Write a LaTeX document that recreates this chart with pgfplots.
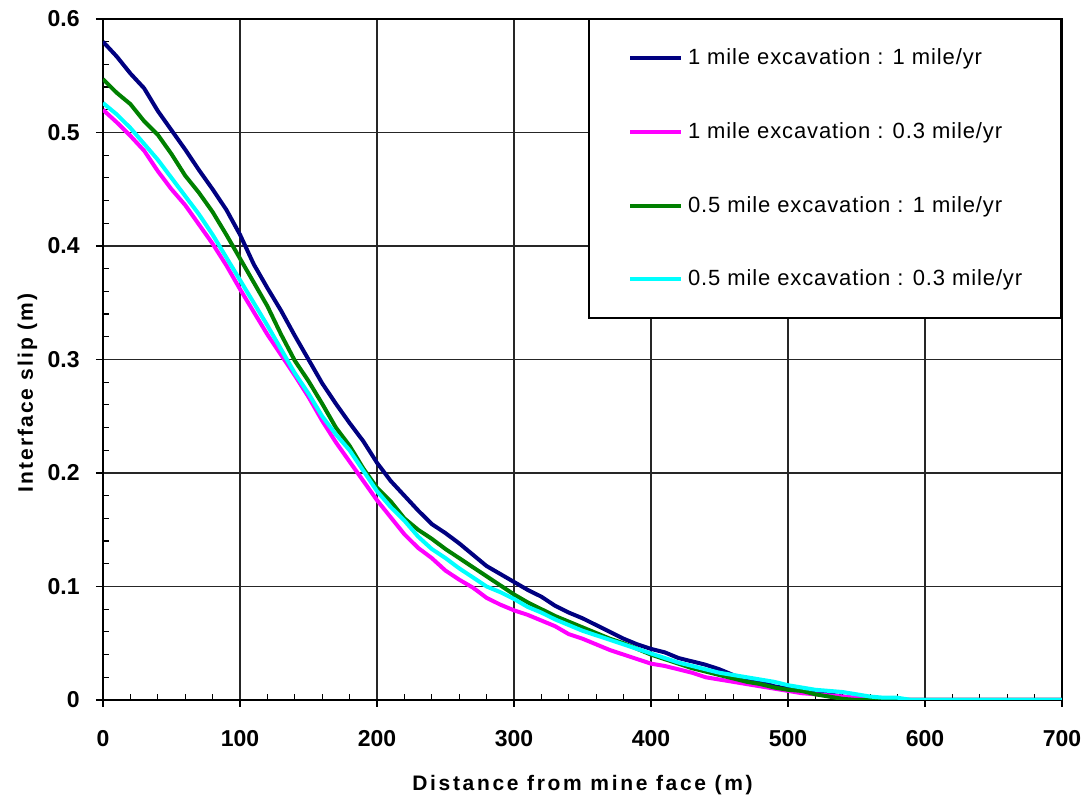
\documentclass[border=0pt]{standalone}
\usepackage{fontspec}
\setmainfont{Liberation Sans}
\newfontfamily\xlabfont[LetterSpace=12.8]{Liberation Sans}
\newfontfamily\ylabfont[LetterSpace=9.8]{Liberation Sans}
\newfontfamily\legfont[LetterSpace=4]{Liberation Sans}
\usepackage{pgfplots}
\pgfplotsset{compat=1.18}
\definecolor{sNavy}{RGB}{0,0,128}
\definecolor{sMag}{RGB}{255,0,255}
\definecolor{sGreen}{RGB}{0,128,0}
\definecolor{sCyan}{RGB}{0,255,255}
\begin{document}
\begin{tikzpicture}
\useasboundingbox (-51.5pt,-50.5pt) rectangle (493pt,350pt);
\begin{axis}[
  at={(0,0)}, anchor=south west,
  scale only axis, width=479.5pt, height=340.5pt,
  xmin=0, xmax=700, ymin=0, ymax=0.6,
  xtick={0,100,200,300,400,500,600,700},
  ytick={0,0.1,0.2,0.3,0.4,0.5,0.6},
  minor x tick num=4, minor y tick num=4,
  xtick pos=bottom, ytick pos=left,
  grid=major,
  major grid style={black!85, line width=0.6pt},
  axis line style={black, line width=0.8pt},
  tick align=inside,
  major tick length=3.5pt, minor tick length=3pt,
  tick style={black, line width=0.6pt},
  major x tick style={yshift=-3.5pt},
  major y tick style={xshift=-3.5pt},
  /pgf/number format/assume math mode=true,
  ticklabel style={font=\fontsize{11.5}{13}\selectfont\bfseries},
  xticklabel style={anchor=base, yshift=-23.5pt},
  yticklabel style={anchor=east, inner sep=0pt, xshift=-11.5pt},
  xlabel={Distance from mine face (m)},
  ylabel={Interface slip (m)},
  xlabel style={at={(axis description cs:0.5,-0.133)}, anchor=base, font=\fontsize{10.5}{12}\xlabfont\bfseries},
  ylabel style={at={(axis description cs:-0.073,0.451)}, anchor=base, font=\fontsize{10.5}{12}\ylabfont\bfseries},
  legend style={at={(1,1)}, anchor=north east, draw=black, line width=0.75pt, fill=white,
    inner xsep=19.5pt, inner ysep=14.5pt, row sep=27.4pt, column sep=2.5pt,
    font=\fontsize{11}{13}\legfont, nodes={inner sep=0pt}},
  legend cell align=left,
  legend image code/.code={\draw[#1, line width=2pt] (0pt,0pt) -- (25.5pt,0pt);},
  every axis plot/.append style={line width=2pt, line join=round},
]
\addplot[sNavy, mark=none] coordinates {
(0,0.580)(10,0.567)(20,0.552)(30,0.539)(40,0.519)(50,0.502)(60,0.485)(70,0.467)(80,0.450)(90,0.432)
(100,0.410)(110,0.384)(120,0.363)(130,0.343)(140,0.321)(150,0.300)(160,0.279)(170,0.261)(180,0.244)(190,0.228)
(200,0.209)(210,0.193)(220,0.180)(230,0.167)(240,0.155)(250,0.147)(260,0.138)(270,0.128)(280,0.118)(290,0.111)
(300,0.104)(310,0.097)(320,0.091)(330,0.083)(340,0.077)(350,0.072)(360,0.066)(370,0.060)(380,0.054)(390,0.049)
(400,0.045)(410,0.042)(420,0.037)(430,0.034)(440,0.031)(450,0.027)(460,0.022)(470,0.018)(480,0.016)(490,0.012)
(500,0.010)(510,0.008)(520,0.007)(530,0.005)(540,0.003)(550,0.001)(560,0)(700,0)
};
\addlegendentry{1 mile excavation : 1 mile/yr}
\addplot[sMag, mark=none] coordinates {
(0,0.520)(10,0.509)(20,0.497)(30,0.484)(40,0.466)(50,0.450)(60,0.436)(70,0.419)(80,0.402)(90,0.383)
(100,0.362)(110,0.342)(120,0.322)(130,0.304)(140,0.286)(150,0.267)(160,0.246)(170,0.227)(180,0.210)(190,0.193)
(200,0.176)(210,0.161)(220,0.146)(230,0.134)(240,0.125)(250,0.114)(260,0.106)(270,0.099)(280,0.090)(290,0.084)
(300,0.079)(310,0.075)(320,0.070)(330,0.065)(340,0.058)(350,0.054)(360,0.049)(370,0.044)(380,0.040)(390,0.036)
(400,0.032)(410,0.030)(420,0.027)(430,0.024)(440,0.020)(450,0.018)(460,0.016)(470,0.014)(480,0.012)(490,0.010)
(500,0.008)(510,0.006)(520,0.005)(530,0.004)(540,0.003)(550,0.002)(560,0.001)(570,0)(700,0)
};
\addlegendentry{1 mile excavation : 0.3 mile/yr}
\addplot[sGreen, mark=none] coordinates {
(0,0.547)(10,0.535)(20,0.525)(30,0.510)(40,0.498)(50,0.481)(60,0.462)(70,0.447)(80,0.430)(90,0.410)
(100,0.389)(110,0.368)(120,0.347)(130,0.322)(140,0.299)(150,0.281)(160,0.261)(170,0.240)(180,0.224)(190,0.204)
(200,0.187)(210,0.175)(220,0.160)(230,0.150)(240,0.142)(250,0.133)(260,0.125)(270,0.117)(280,0.109)(290,0.101)
(300,0.093)(310,0.086)(320,0.080)(330,0.074)(340,0.069)(350,0.064)(360,0.059)(370,0.054)(380,0.050)(390,0.045)
(400,0.040)(410,0.036)(420,0.032)(430,0.028)(440,0.025)(450,0.022)(460,0.019)(470,0.016)(480,0.014)(490,0.011)
(500,0.009)(510,0.008)(520,0.005)(530,0.003)(540,0.001)(550,0)(700,0)
};
\addlegendentry{0.5 mile excavation : 1 mile/yr}
\addplot[sCyan, mark=none] coordinates {
(0,0.526)(10,0.516)(20,0.504)(30,0.490)(40,0.476)(50,0.460)(60,0.444)(70,0.428)(80,0.410)(90,0.390)
(100,0.370)(110,0.350)(120,0.330)(130,0.309)(140,0.288)(150,0.270)(160,0.250)(170,0.234)(180,0.220)(190,0.202)
(200,0.184)(210,0.170)(220,0.158)(230,0.144)(240,0.133)(250,0.125)(260,0.116)(270,0.108)(280,0.100)(290,0.095)
(300,0.089)(310,0.082)(320,0.077)(330,0.071)(340,0.066)(350,0.061)(360,0.057)(370,0.053)(380,0.049)(390,0.045)
(400,0.041)(410,0.037)(420,0.033)(430,0.030)(440,0.027)(450,0.024)(460,0.022)(470,0.020)(480,0.018)(490,0.016)
(500,0.013)(510,0.011)(520,0.009)(530,0.008)(540,0.007)(550,0.005)(560,0.003)(570,0.002)(580,0.002)(590,0)(700,0)
};
\addlegendentry{0.5 mile excavation : 0.3 mile/yr}
\end{axis}
\end{tikzpicture}
\end{document}
